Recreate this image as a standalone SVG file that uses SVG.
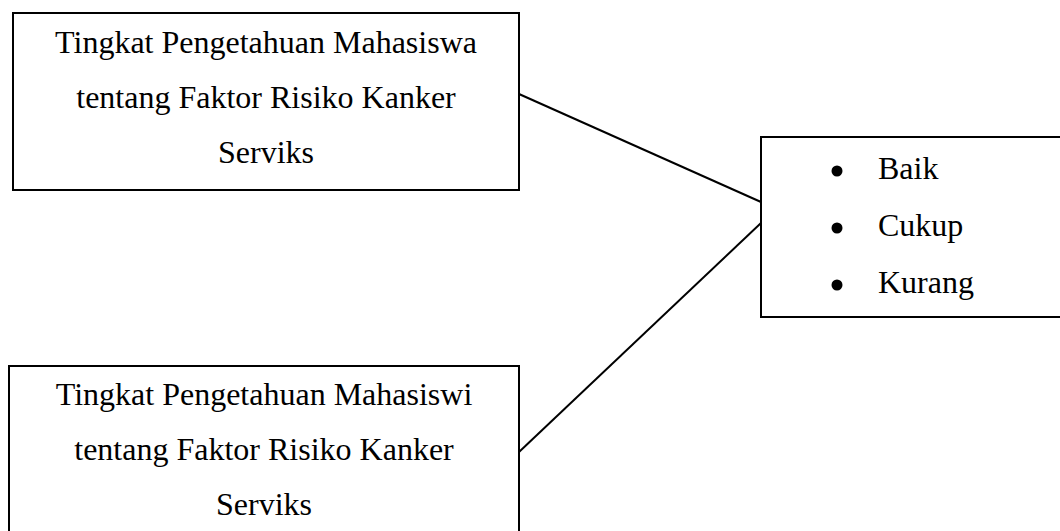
<svg xmlns="http://www.w3.org/2000/svg" width="1060" height="531" viewBox="0 0 1060 531">
<style>
.box{fill:#fff;stroke:#000;stroke-width:2}
.t{font-family:"Liberation Serif","Times New Roman",serif;font-size:32px;fill:#000}
.c{text-anchor:middle}
.conn{stroke:#000;stroke-width:2;fill:none}
</style>
<rect width="1060" height="531" fill="#fff"/>
<g id="node-mahasiswa">
<rect class="box" x="13" y="13" width="506" height="177"/>
<text class="t c" x="266" y="53">Tingkat Pengetahuan Mahasiswa</text>
<text class="t c" x="266" y="108">tentang Faktor Risiko Kanker</text>
<text class="t c" x="266" y="163">Serviks</text>
</g>
<g id="node-mahasiswi">
<rect class="box" x="9" y="366" width="510" height="180"/>
<text class="t c" x="264" y="405">Tingkat Pengetahuan Mahasiswi</text>
<text class="t c" x="264" y="460">tentang Faktor Risiko Kanker</text>
<text class="t c" x="264" y="515">Serviks</text>
</g>
<g id="node-kategori">
<rect class="box" x="761" y="137" width="320" height="180"/>
<circle cx="837" cy="171" r="5.5" fill="#000"/>
<circle cx="837" cy="228" r="5.5" fill="#000"/>
<circle cx="837" cy="285" r="5.5" fill="#000"/>
<text class="t" x="878" y="179">Baik</text>
<text class="t" x="878" y="236">Cukup</text>
<text class="t" x="878" y="293">Kurang</text>
</g>
<g id="connectors">
<line class="conn" x1="519" y1="94" x2="761" y2="202"/>
<line class="conn" x1="519" y1="452" x2="761" y2="223"/>
</g>
</svg>
